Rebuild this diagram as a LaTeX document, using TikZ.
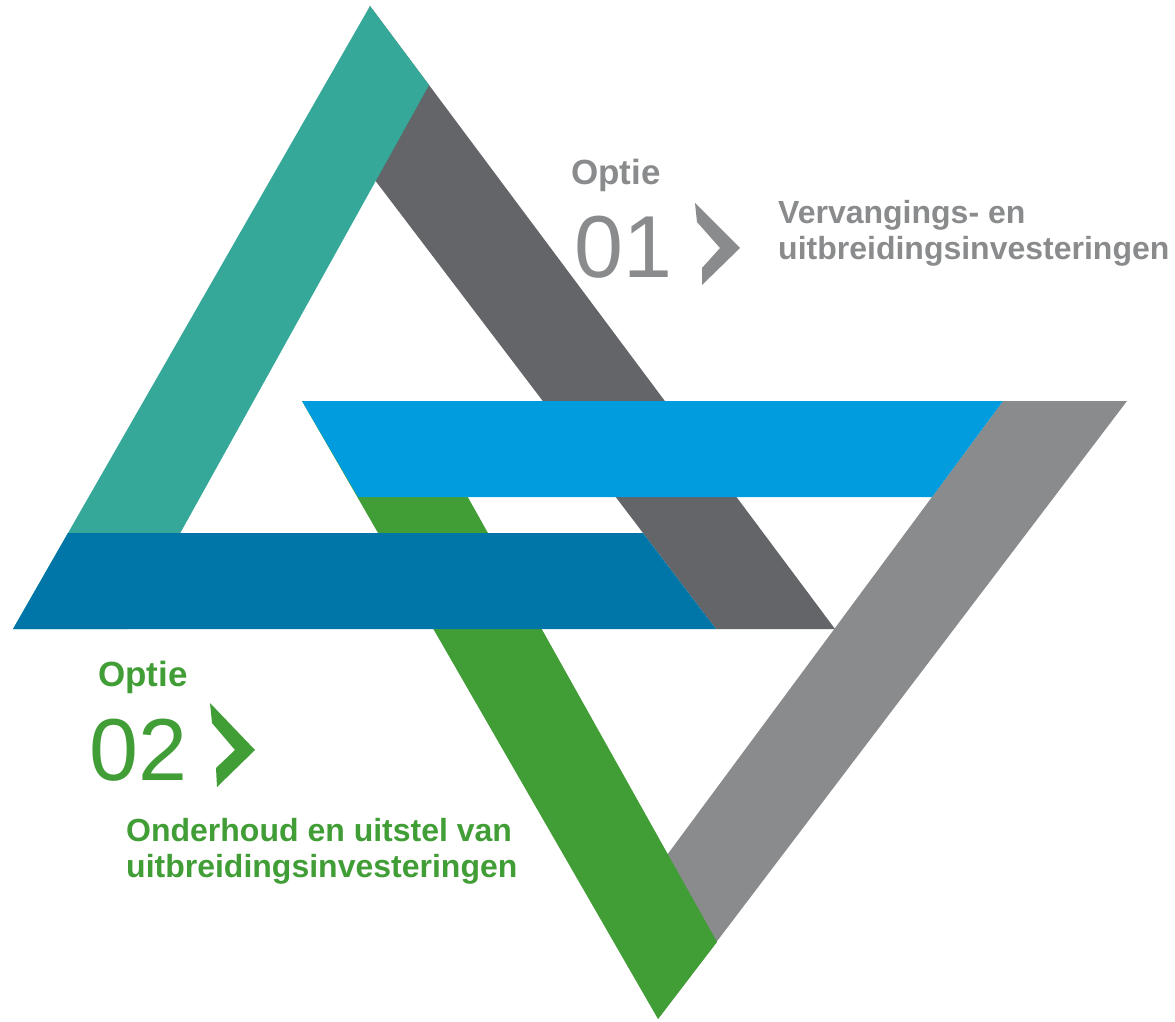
\documentclass[tikz,border=0pt]{standalone}
\usepackage{fontspec}
\setmainfont{Liberation Sans}
\definecolor{bandteal}{HTML}{36A899}
\definecolor{banddarkgray}{HTML}{636569}
\definecolor{bandlightgray}{HTML}{898B8D}
\definecolor{bandlightblue}{HTML}{009CDE}
\definecolor{banddarkblue}{HTML}{0075A7}
\definecolor{bandgreen}{HTML}{419D35}
\definecolor{textgray}{HTML}{898B8D}

\begin{document}
\begin{tikzpicture}[x=1pt,y=-1pt,
	optie/.style={anchor=base west,inner sep=0pt,font=\bfseries\fontsize{35}{38}\selectfont},
	optnum/.style={anchor=base west,inner sep=0pt,font=\fontsize{88}{88}\selectfont},
	invest/.style={anchor=north west,inner sep=0pt,align=left,font=\bfseries\fontsize{32}{36.5}\selectfont}]
	\useasboundingbox (0,0) rectangle (1175,1022);
	
	%bands - up triangle
	\fill[banddarkgray] (370,6)--(835,629)--(716,629)--(327,117)--cycle;
	\fill[bandteal] (370,6)--(429,85)--(127,629)--(13,629)--cycle;
	
	%bands - down triangle
	\fill[bandlightgray] (1003,401)--(1127,401)--(658,1019)--(633,901)--cycle;
	\fill[bandgreen] (302,401)--(414,401)--(717,942)--(658,1019)--cycle;
	\fill[bandlightblue] (302,401)--(1003,401)--(932,497)--(358,497)--cycle;	%over green and gray
	\fill[banddarkblue] (68,533)--(643,533)--(716,629)--(13,629)--cycle;	%over teal and green
	
	%chevrons
	\fill[textgray] (695,203)--(740,248)--(702,285)--(702,268)--(720,248)--(697,222)--cycle;
	\fill[bandgreen] (210,703)--(255,750)--(217,787)--(216,768)--(235,750)--(212,723)--cycle;
	
	%option 01
	\node[optie,text=textgray] (optA) at (571,184) {Optie};
	\node[optnum,text=textgray] (numA) at (574,277) {01};
	\node[invest,text=textgray] (textA) at (778,200) {Vervangings- en\\uitbreidingsinvesteringen};
	
	%option 02
	\node[optie,text=bandgreen] (optB) at (98,686) {Optie};
	\node[optnum,text=bandgreen] (numB) at (89,780) {02};
	\node[invest,text=bandgreen] (textB) at (126,818) {Onderhoud en uitstel van\\uitbreidingsinvesteringen};
\end{tikzpicture}
\end{document}
